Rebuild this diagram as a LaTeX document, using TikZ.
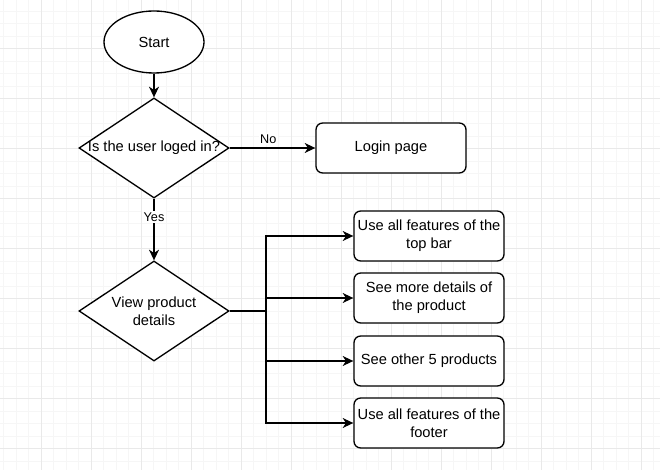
\documentclass[tikz,border=0pt]{standalone}
\usepackage{fontspec}
\setmainfont{Liberation Sans}
\usetikzlibrary{shapes.geometric,arrows.meta}
\tikzset{
    boxfont/.style={font=\fontsize{11}{13.5}\selectfont},
    startnode/.style={ellipse,draw,fill=white,line width=1pt,boxfont,minimum width=75pt,minimum height=46.5pt,inner sep=0pt},
    decision/.style={diamond,draw,fill=white,line width=1pt,boxfont,shape aspect=1.5,minimum width=112.5pt,minimum height=75pt,inner sep=0pt,align=center},
    process/.style={rectangle,draw,fill=white,rounded corners=5pt,line width=1pt,boxfont,minimum width=112.5pt,minimum height=37.5pt,inner sep=1pt,align=center},
    arrow/.style={line width=1pt,-{Stealth[length=8pt,width=7.5pt,inset=2.5pt]}},
    edgelabel/.style={font=\fontsize{9.5}{11}\selectfont,fill=white,inner sep=1pt},
    minorgrid/.style={gray!7,line width=0.75pt},
    majorgrid/.style={gray!17,line width=0.75pt}
}
\begin{document}
\begin{tikzpicture}[x=0.75pt,y=-0.75pt]
                    \useasboundingbox (0,0) rectangle (660,470);
                    %GRID
                    \begin{scope}
                    \clip (0,0) rectangle (660,470);
                    \foreach \i in {0,...,52} \draw[minorgrid] ({3.8+12.5*\i},0) -- ({3.8+12.5*\i},470);
                    \foreach \i in {0,...,37} \draw[minorgrid] (0,{11.2+12.5*\i}) -- (660,{11.2+12.5*\i});
                    \foreach \i in {0,...,12} \draw[majorgrid] ({41.3+50*\i},0) -- ({41.3+50*\i},470);
                    \foreach \i in {0,...,8} \draw[majorgrid] (0,{48.7+50*\i}) -- (660,{48.7+50*\i});
                    \end{scope}

                    %NODE
                    \node[startnode] (start) at (154,42) {Start};
                    \node[decision] (check) at (154,148) {\makebox[0pt]{Is the user loged in?}};
                    \node[process] (login) at (391,148) {Login page};
                    \node[decision] (view) at (154,311) {View product\\details};
                    \node[process] (b1) at (429,236) {Use all features of the\\top bar};
                    \node[process] (b2) at (429,298) {See more details of\\the product};
                    \node[process] (b3) at (429,361) {See other 5 products};
                    \node[process] (b4) at (429,423) {Use all features of the\\footer};
                    \coordinate (trunk) at (266,311);

                    %EDGE
                    \draw[arrow] (start) -- (check);
                    \draw[arrow] (check.east) -- node[edgelabel,above,pos=0.45,yshift=2pt] {No} (login.west);
                    \draw[arrow] (check.south) -- node[edgelabel,pos=0.3] {Yes} (view.north);
                    \foreach \b in {b1,b2,b3,b4}
                        \draw[arrow] (view.east) -- (trunk) |- (\b.west);
\end{tikzpicture}
\end{document}
